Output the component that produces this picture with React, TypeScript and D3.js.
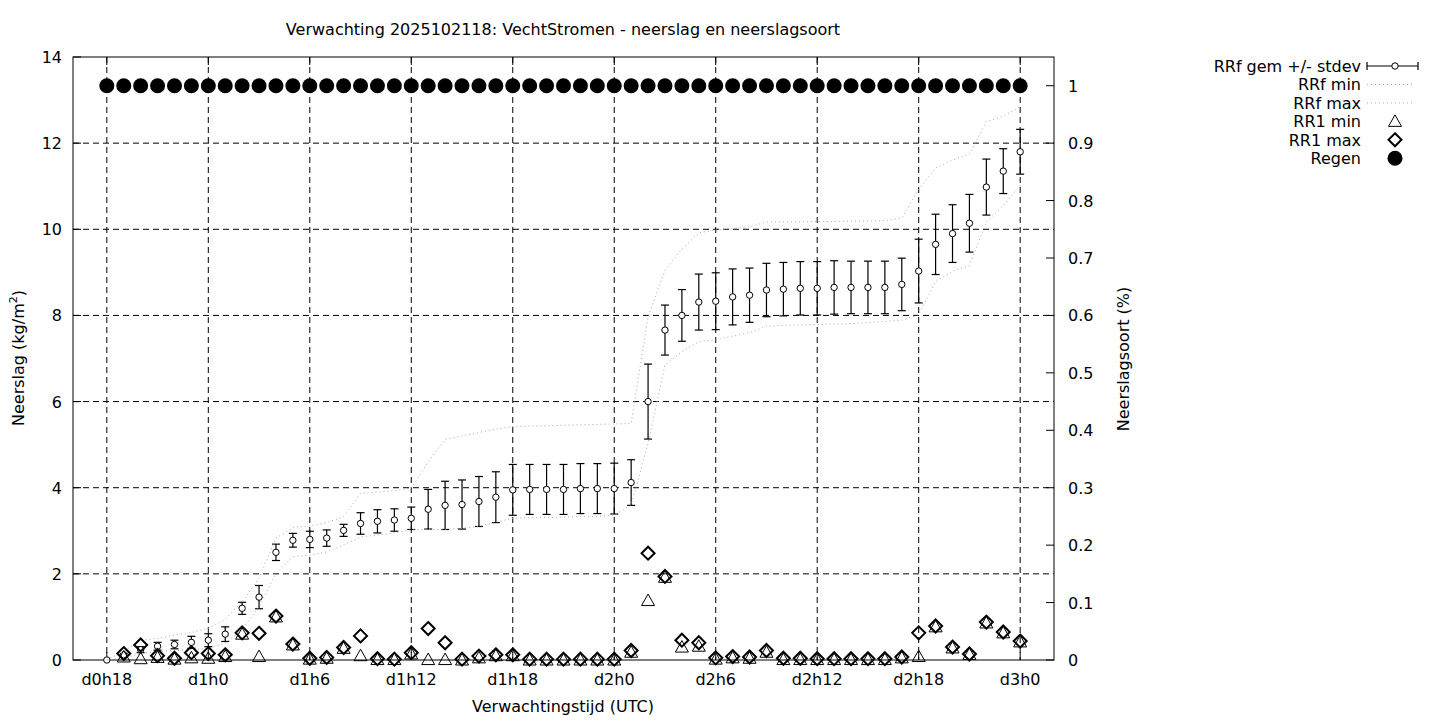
import React from "react";
import * as d3 from "d3";

const hours: number[] = d3.range(0, 55);
const tickHours = [0, 6, 12, 18, 24, 30, 36, 42, 48, 54];
const tickLabels = ["d0h18", "d1h0", "d1h6", "d1h12", "d1h18", "d2h0", "d2h6", "d2h12", "d2h18", "d3h0"];
const yTicks = [0, 2, 4, 6, 8, 10, 12, 14];
const y2Ticks = [0, 0.1, 0.2, 0.3, 0.4, 0.5, 0.6, 0.7, 0.8, 0.9, 1];

const rrfMean = [0, 0.12, 0.24, 0.32, 0.36, 0.41, 0.46, 0.6, 1.2, 1.46, 2.5, 2.78, 2.8, 2.83, 3.01, 3.17, 3.22, 3.25, 3.29, 3.5, 3.59, 3.61, 3.68, 3.78, 3.95, 3.96, 3.96, 3.96, 3.98, 3.98, 3.98, 4.12, 6.0, 7.66, 8.0, 8.31, 8.33, 8.43, 8.47, 8.59, 8.61, 8.63, 8.63, 8.65, 8.65, 8.65, 8.65, 8.72, 9.03, 9.65, 9.9, 10.14, 10.98, 11.35, 11.8];
const rrfStdev = [0, 0.03, 0.07, 0.09, 0.1, 0.14, 0.15, 0.17, 0.14, 0.27, 0.19, 0.16, 0.19, 0.19, 0.14, 0.25, 0.27, 0.26, 0.26, 0.46, 0.56, 0.57, 0.58, 0.59, 0.59, 0.58, 0.58, 0.58, 0.58, 0.58, 0.59, 0.53, 0.87, 0.58, 0.6, 0.65, 0.66, 0.65, 0.63, 0.62, 0.62, 0.62, 0.62, 0.62, 0.61, 0.61, 0.61, 0.61, 0.74, 0.7, 0.67, 0.67, 0.65, 0.52, 0.52];
const rrfMin = [0, 0.05, 0.15, 0.2, 0.22, 0.24, 0.27, 0.39, 0.7, 1.24, 2.01, 2.4, 2.43, 2.51, 2.67, 2.86, 2.9, 2.95, 3.03, 3.03, 3.03, 3.06, 3.1, 3.2, 3.29, 3.3, 3.31, 3.32, 3.33, 3.33, 3.37, 3.6, 5.03, 6.85, 7.16, 7.39, 7.44, 7.52, 7.6, 7.75, 7.77, 7.78, 7.79, 7.8, 7.81, 7.83, 7.86, 7.89, 8.02, 8.78, 9.03, 9.16, 10.17, 10.55, 11.02];
const rrfMax = [0, 0.2, 0.46, 0.5, 0.58, 0.64, 0.74, 0.95, 1.35, 1.9, 2.83, 3.08, 3.11, 3.19, 3.33, 3.87, 3.9, 3.93, 3.99, 4.6, 5.12, 5.2, 5.28, 5.36, 5.42, 5.43, 5.44, 5.45, 5.46, 5.47, 5.48, 5.49, 7.97, 9.05, 9.54, 9.92, 9.98, 10.02, 10.06, 10.17, 10.17, 10.17, 10.18, 10.18, 10.19, 10.19, 10.2, 10.26, 10.93, 11.42, 11.61, 11.75, 12.5, 12.62, 12.85];
const rr1Min: (number | null)[] = [null, 0.07, 0.03, 0.06, 0.02, 0.05, 0.04, 0.08, 0.6, 0.08, 1.0, 0.35, 0.02, 0.04, 0.27, 0.1, 0.01, 0.01, 0.14, 0.01, 0.01, 0.0, 0.05, 0.1, 0.1, 0.0, 0.0, 0.0, 0.0, 0.0, 0.0, 0.18, 1.38, 1.92, 0.3, 0.32, 0.02, 0.05, 0.04, 0.18, 0.01, 0.01, 0.01, 0.01, 0.01, 0.01, 0.01, 0.05, 0.08, 0.77, 0.28, 0.13, 0.86, 0.63, 0.42];
const rr1Max: (number | null)[] = [null, 0.15, 0.35, 0.1, 0.04, 0.17, 0.15, 0.12, 0.63, 0.62, 1.02, 0.37, 0.04, 0.06, 0.29, 0.56, 0.03, 0.02, 0.17, 0.73, 0.4, 0.02, 0.09, 0.12, 0.12, 0.02, 0.02, 0.02, 0.02, 0.02, 0.02, 0.22, 2.48, 1.94, 0.46, 0.4, 0.05, 0.08, 0.07, 0.22, 0.04, 0.04, 0.03, 0.03, 0.03, 0.03, 0.03, 0.07, 0.63, 0.79, 0.3, 0.14, 0.88, 0.65, 0.44];
const regen = hours.map(() => 1);

const FONT = "'DejaVu Sans', sans-serif";
const FS = 16;
const L = 73, R = 1054, T = 57, B = 660;

export default function App() {
  const x = d3.scaleLinear().domain([-2, 56]).range([L, R]);
  const y = d3.scaleLinear().domain([0, 14]).range([B, T]);
  const y2 = d3.scaleLinear().domain([0, 1.05]).range([B, T]);
  const line = d3.line<number>().x((_, i) => x(hours[i])).y((d) => y(d));
  const dotted = { stroke: "#a8a8a8", strokeWidth: 1, strokeDasharray: "1,3", fill: "none" };
  const diamond = (cx: number, cy: number, s = 6.5) => `M${cx},${cy - s}L${cx + s},${cy}L${cx},${cy + s}L${cx - s},${cy}Z`;
  const tri = (cx: number, cy: number) => `M${cx},${cy - 6.5}L${cx + 6.5},${cy + 5}L${cx - 6.5},${cy + 5}Z`;
  const legendRows = ["RRf gem +/- stdev", "RRf min", "RRf max", "RR1 min", "RR1 max", "Regen"];
  const ly = (i: number) => 66 + i * 18.45;
  const lx1 = 1367, lx2 = 1418, lxm = 1395;

  return (
    <svg width={1440} height={720} style={{ position: "absolute", left: 0, top: 0, background: "#fff" }} fontFamily={FONT}>
      <rect x={0} y={0} width={1440} height={720} fill="#fff" />
      {tickHours.map((h) => (
        <line key={"gx" + h} x1={x(h)} x2={x(h)} y1={T} y2={B} stroke="#000" strokeWidth={1} strokeDasharray="6,4" />
      ))}
      {yTicks.slice(1, -1).map((v) => (
        <line key={"gy" + v} x1={L} x2={R} y1={y(v)} y2={y(v)} stroke="#000" strokeWidth={1} strokeDasharray="6,4" />
      ))}
      {tickHours.map((h, k) => (
        <g key={"tx" + h}>
          <line x1={x(h)} x2={x(h)} y1={B} y2={B - 8} stroke="#000" />
          <line x1={x(h)} x2={x(h)} y1={T} y2={T + 8} stroke="#000" />
          <text x={x(h)} y={685} fontSize={FS} textAnchor="middle">{tickLabels[k]}</text>
        </g>
      ))}
      {yTicks.map((v) => (
        <g key={"ty" + v}>
          <line x1={L} x2={L + 8} y1={y(v)} y2={y(v)} stroke="#000" />
          <text x={62} y={y(v) + 6} fontSize={FS} textAnchor="end">{v}</text>
        </g>
      ))}
      {y2Ticks.map((v) => (
        <g key={"ty2" + v}>
          <line x1={R} x2={R - 8} y1={y2(v)} y2={y2(v)} stroke="#000" />
          <text x={1068} y={y2(v) + 6} fontSize={FS} textAnchor="start">{String(v)}</text>
        </g>
      ))}
      <rect x={L} y={T} width={R - L} height={B - T} fill="none" stroke="#000" strokeWidth={1} />
      {hours.map((h, i) => {
        const cx = x(h), lo = y(rrfMean[i] - rrfStdev[i]), hi = y(rrfMean[i] + rrfStdev[i]);
        return (
          <g key={"eb" + h}>
            {rrfStdev[i] > 0 && (
              <g stroke="#000" strokeWidth={1.2}>
                <line x1={cx} x2={cx} y1={lo} y2={hi} />
                <line x1={cx - 4} x2={cx + 4} y1={lo} y2={lo} />
                <line x1={cx - 4} x2={cx + 4} y1={hi} y2={hi} />
              </g>
            )}
            <circle cx={cx} cy={y(rrfMean[i])} r={3.2} fill="#fff" stroke="#000" strokeWidth={1} />
          </g>
        );
      })}
      <path d={line(rrfMin) || ""} {...dotted} />
      <path d={line(rrfMax) || ""} {...dotted} />
      {hours.map((h, i) =>
        rr1Min[i] == null ? null : (
          <path key={"tr" + h} d={tri(x(h), y(rr1Min[i] as number))} fill="none" stroke="#000" strokeWidth={1} />
        )
      )}
      {hours.map((h, i) =>
        rr1Max[i] == null ? null : (
          <path key={"dm" + h} d={diamond(x(h), y(rr1Max[i] as number))} fill="none" stroke="#000" strokeWidth={2} />
        )
      )}
      {hours.map((h, i) => (
        <circle key={"rg" + h} cx={x(h)} cy={y2(regen[i])} r={7.5} fill="#000" />
      ))}
      <text x={563} y={35} fontSize={FS} textAnchor="middle">Verwachting 2025102118: VechtStromen - neerslag en neerslagsoort</text>
      <text x={563} y={712} fontSize={FS} textAnchor="middle">Verwachtingstijd (UTC)</text>
      <text transform="translate(24,358) rotate(-90)" fontSize={FS} textAnchor="middle">
        Neerslag (kg/m<tspan fontSize={11} dy={-7}>2</tspan><tspan dy={7}>)</tspan>
      </text>
      <text transform="translate(1129,359) rotate(-90)" fontSize={FS} textAnchor="middle">Neerslagsoort (%)</text>
      {legendRows.map((t, i) => (
        <text key={"lg" + i} x={1361} y={ly(i) + 6} fontSize={FS} textAnchor="end">{t}</text>
      ))}
      <g stroke="#000" strokeWidth={1.2}>
        <line x1={lx1} x2={lx2} y1={ly(0)} y2={ly(0)} />
        <line x1={lx1} x2={lx1} y1={ly(0) - 4} y2={ly(0) + 4} />
        <line x1={lx2} x2={lx2} y1={ly(0) - 4} y2={ly(0) + 4} />
      </g>
      <circle cx={lxm} cy={ly(0)} r={3.2} fill="#fff" stroke="#000" />
      <line x1={lx1} x2={1413} y1={ly(1)} y2={ly(1)} {...dotted} />
      <line x1={lx1} x2={1413} y1={ly(2)} y2={ly(2)} {...dotted} />
      <path d={tri(lxm, ly(3))} fill="none" stroke="#000" />
      <path d={diamond(lxm, ly(4))} fill="none" stroke="#000" strokeWidth={2} />
      <circle cx={lxm} cy={ly(5)} r={7.5} fill="#000" />
    </svg>
  );
}
